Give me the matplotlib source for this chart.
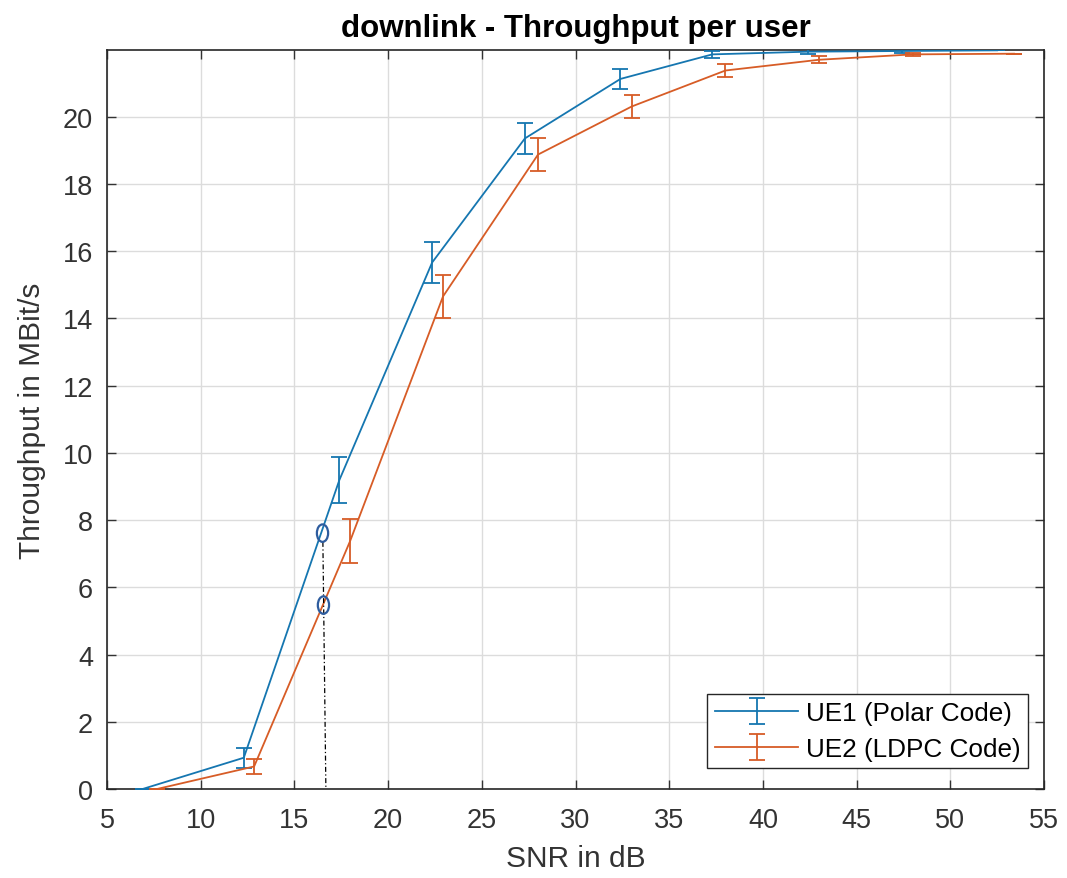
import matplotlib
matplotlib.use("Agg")
import matplotlib.pyplot as plt
from matplotlib.patches import Ellipse

# ---- data ----
snr_ue1 = [6.9, 12.3, 17.4, 22.35, 27.3, 32.4, 37.3, 42.4, 47.4, 52.5]
thr_ue1 = [0.0, 0.93, 9.19, 15.66, 19.35, 21.12, 21.85, 21.93, 21.95, 21.97]
err_ue1 = [0.0, 0.30, 0.69, 0.60, 0.45, 0.30, 0.10, 0.07, 0.06, 0.0]

snr_ue2 = [7.67, 12.85, 17.97, 22.93, 28.0, 33.0, 38.0, 43.0, 48.0, 53.4]
thr_ue2 = [0.0, 0.67, 7.37, 14.65, 18.87, 20.30, 21.37, 21.69, 21.85, 21.87]
err_ue2 = [0.0, 0.22, 0.66, 0.63, 0.48, 0.35, 0.20, 0.10, 0.05, 0.0]

labels = ["UE1 (Polar Code)", "UE2 (LDPC Code)"]
title = "downlink - Throughput per user"
xlabel = "SNR in dB"
ylabel = "Throughput in MBit/s"
xticks = [5, 10, 15, 20, 25, 30, 35, 40, 45, 50, 55]
yticks = [0, 2, 4, 6, 8, 10, 12, 14, 16, 18, 20]

# annotation markers (circled points and dash-dot guide)
mark_x = [16.5, 16.55]
mark_y = [7.61, 5.47]
guide_x = [16.52, 16.68]
guide_y = [7.35, 0.0]

plt.rcParams['font.family'] = ['Liberation Sans', 'DejaVu Sans']

fig = plt.figure(figsize=(10.67, 8.79), dpi=100)
ax = fig.add_axes([107/1067, 1 - 790/879, (1044-107)/1067, (790-51)/879])

c1 = "#1576B0"
c2 = "#D75C26"
ax.errorbar(snr_ue1, thr_ue1, yerr=err_ue1, color=c1, lw=1.3, capsize=6,
            capthick=1.3, elinewidth=1.3, label=labels[0], zorder=3)
ax.errorbar(snr_ue2, thr_ue2, yerr=err_ue2, color=c2, lw=1.3, capsize=6,
            capthick=1.3, elinewidth=1.3, label=labels[1], zorder=3)

ax.plot(guide_x, guide_y, color='black', lw=0.9, ls=(0, (4, 2, 1, 2)), zorder=4)
for mx, my in zip(mark_x, mark_y):
    ax.add_patch(Ellipse((mx, my), 0.6, 0.52, facecolor='none',
                         edgecolor='#2E5C9E', lw=1.6, zorder=5))

ax.set_xlim(5, 55)
ax.set_ylim(0, 21.98)
ax.set_xticks(xticks)
ax.set_yticks(yticks)
ax.tick_params(axis='both', direction='in', length=6.5, width=1.0,
               labelsize=19.5, colors='#333333', top=True, right=True)
ax.tick_params(axis='x', pad=13)
ax.tick_params(axis='y', pad=10)
ax.grid(True, color='#dcdcdc', lw=1.0)
ax.set_axisbelow(True)
for s in ax.spines.values():
    s.set_color('#262626')
    s.set_linewidth(1.2)

ax.set_title(title, fontsize=22.5, fontweight='bold', pad=10, color='black')
ax.set_xlabel(xlabel, fontsize=21.5, color='#333333', labelpad=8)
ax.set_ylabel(ylabel, fontsize=21.5, color='#333333', labelpad=12)

leg = ax.legend(loc='lower right', bbox_to_anchor=(0.983, 0.028),
                borderaxespad=0, fontsize=18.8, fancybox=False,
                edgecolor='#262626', framealpha=1, handlelength=3.2,
                handletextpad=0.3, labelspacing=0.45, borderpad=0.28)
leg.get_frame().set_linewidth(1.0)

fig.savefig("out.png", dpi=100)
